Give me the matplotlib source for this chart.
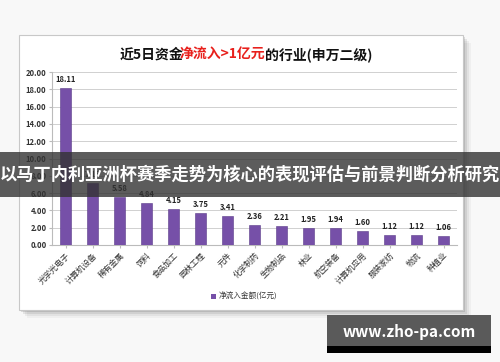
import matplotlib.pyplot as plt
from matplotlib.patches import Rectangle

plt.rcParams['font.family'] = ['Noto Sans CJK SC', 'DejaVu Sans']

industries = ['光学光电子', '计算机设备', '稀有金属', '饲料', '食品加工', '园林工程', '元件',
              '化学制药', '生物制品', '林业', '航空装备', '计算机应用', '服装家纺', '物流', '种植业']
inflow = [18.11, 7.16, 5.58, 4.84, 4.15, 3.75, 3.41, 2.36, 2.21, 1.95, 1.94, 1.60, 1.12, 1.12, 1.06]
yticks = [0, 2, 4, 6, 8, 10, 12, 14, 16, 18, 20]

W, H = 500, 362
fig = plt.figure(figsize=(5, 3.62), dpi=100)
fig.patch.set_facecolor('#f8f8f8')


def box(x0, y0, x1, y1, **kw):
    # pixel coords (top-left origin) -> figure fraction rectangle
    fig.patches.append(Rectangle((x0 / W, 1 - y1 / H), (x1 - x0) / W, (y1 - y0) / H,
                                 transform=fig.transFigure, **kw))


# card shadow and card
for i, a in enumerate([0.05, 0.08, 0.12, 0.18]):
    d = 8 - 2 * i
    box(19 + d, 35 + d, 463 + d, 310 + d, facecolor='#555555', alpha=a, edgecolor='none', zorder=0)
box(19, 35, 463, 310, facecolor='white', edgecolor='#c8c8c8', linewidth=0.8, zorder=1)

ax = fig.add_axes([52 / W, 1 - 245 / H, 405 / W, 173 / H])
ax.set_facecolor('none')
ax.set_zorder(2)
x = list(range(len(industries)))
ax.bar(x, inflow, width=0.38, color='#7650a8', edgecolor='#5a3a88', linewidth=0.4, zorder=3)
for xi, v in zip(x, inflow):
    ax.text(xi, v + 0.45, f'{v:.2f}', ha='center', va='bottom', fontsize=5.5,
            fontweight='bold', color='#222222', zorder=4)

ax.set_ylim(0, 20)
ax.set_xlim(-0.5, len(industries) - 0.5)
ax.set_yticks(yticks)
ax.set_yticklabels([f'{t:.2f}' for t in yticks], fontsize=5.5, fontweight='bold', color='#333333')
ax.set_xticks(x)
ax.set_xticklabels(industries, rotation=45, ha='right', rotation_mode='anchor',
                   fontsize=5.8, color='#333333')
ax.grid(axis='y', color='#d0d0d0', linewidth=0.7, zorder=0)
for s in ['top', 'right']:
    ax.spines[s].set_visible(False)
ax.spines['left'].set_color('#bbbbbb')
ax.spines['bottom'].set_color('#bbbbbb')
ax.tick_params(axis='both', length=2, color='#bbbbbb', pad=2)

# title in three colours, chained with annotate so the pieces touch
ty = 1 - 55 / H
t1 = fig.text(120 / W, ty, '近5日资金', fontsize=10, fontweight='bold',
              color='#111111', va='center', zorder=5)
t2 = fig.add_artist(plt.Annotation('净流入>1亿元', xy=(1, 0.5), xycoords=t1,
                                   xytext=(-4, 0), textcoords='offset pixels', va='center',
                                   fontsize=10, fontweight='bold', color='#e8201c', zorder=5))
t3 = fig.add_artist(plt.Annotation('的行业(申万二级)', xy=(1, 0.5), xycoords=t2, va='center',
                                   fontsize=10, fontweight='bold', color='#111111', zorder=5))

# legend
box(211, 294, 216, 299, facecolor='#7650a8', edgecolor='none', zorder=5)
fig.text(219 / W, 1 - 297 / H, '净流入金额(亿元)', fontsize=5.5, color='#333333',
         va='center', zorder=5)

# dark banner over the chart
box(0, 152, 500, 197, facecolor='#333333', alpha=0.8, edgecolor='none', zorder=10)
fig.text(0.5, 1 - 175 / H, '以马丁内利亚洲杯赛季走势为核心的表现评估与前景判断分析研究',
         fontsize=12.4, fontweight='bold', color='white', ha='center', va='center', zorder=11)

# site tag
box(327, 315, 491, 346, facecolor='#5a5a5a', edgecolor='none', zorder=10)
box(327, 346, 491, 353, facecolor='#000000', edgecolor='none', zorder=10)
fig.text(409 / W, 1 - 332 / H, 'www.zho-pa.com', fontsize=11, fontweight='bold',
         color='white', ha='center', va='center', zorder=11)

fig.savefig('out.png', dpi=100)
